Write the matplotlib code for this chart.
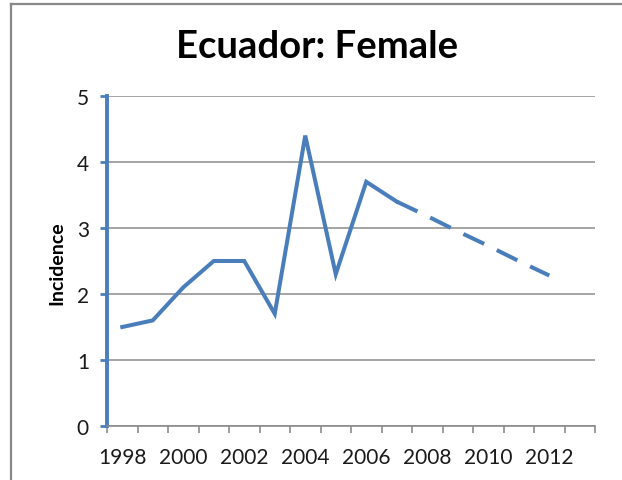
import matplotlib
matplotlib.use('Agg')
import matplotlib.pyplot as plt
from matplotlib.lines import Line2D

plt.rcParams['font.family'] = ['Lato', 'DejaVu Sans']

# observed incidence (solid) and projected trend (dashed)
years_obs = [1998, 1999, 2000, 2001, 2002, 2003, 2004, 2005, 2006, 2007]
incidence_obs = [1.5, 1.6, 2.1, 2.5, 2.5, 1.7, 4.4, 2.3, 3.7, 3.4]
years_proj = [2007, 2008, 2009, 2010, 2011, 2012]
incidence_proj = [3.4, 3.18, 2.95, 2.73, 2.5, 2.28]
tick_years = [1998, 2000, 2002, 2004, 2006, 2008, 2010, 2012]

blue = '#4a7ebb'
grey = '#8c8c8c'

fig = plt.figure(figsize=(6.22, 4.81), dpi=100)
ax = fig.add_axes([107 / 622, 1 - 427 / 481, (595 - 107) / 622, (427 - 97) / 481])

ax.plot(years_obs, incidence_obs, color=blue, lw=2.9, solid_joinstyle='miter', zorder=3)
ax.plot(years_proj, incidence_proj, color=blue, lw=2.9, dashes=(5.7, 3.5),
        dash_capstyle='butt', zorder=3)

ax.set_xlim(1997.5, 2013.5)
ax.set_ylim(0, 5)
ax.set_yticks(range(0, 6))
ax.set_xticks(tick_years)
ax.set_xticks([y + 0.5 for y in range(1997, 2014)], minor=True)
ax.tick_params(axis='x', which='major', length=0, pad=15, labelsize=15, labelcolor='#1a1a1a')
ax.tick_params(axis='x', which='minor', length=5, width=1.2, color=grey, direction='out')
ax.tick_params(axis='y', length=5, width=2, color=blue, pad=8, labelsize=15, labelcolor='#1a1a1a')

ax.yaxis.grid(True, color=grey, lw=1.1)
ax.set_axisbelow(True)
for s in ['top', 'right']:
    ax.spines[s].set_visible(False)
ax.spines['left'].set_color(blue)
ax.spines['left'].set_linewidth(2.8)
ax.spines['bottom'].set_color(grey)
ax.spines['bottom'].set_linewidth(1.2)

fig.text(317 / 622, 1 - 47 / 481, 'Ecuador: Female', ha='center', va='center',
         fontsize=27.5, fontweight='bold')
fig.text(57 / 622, 1 - 263 / 481, 'Incidence', rotation=90, ha='center', va='center',
         fontsize=14, fontweight='bold')

# chart frame (top and left edges visible)
fig.add_artist(Line2D([10.5 / 622, 10.5 / 622], [0, 1 - 4.5 / 481], color='#888888', lw=1.6,
                      transform=fig.transFigure))
fig.add_artist(Line2D([10.5 / 622, 1], [1 - 4.5 / 481, 1 - 4.5 / 481], color='#888888', lw=1.6,
                      transform=fig.transFigure))

fig.savefig('out.png', dpi=100)
